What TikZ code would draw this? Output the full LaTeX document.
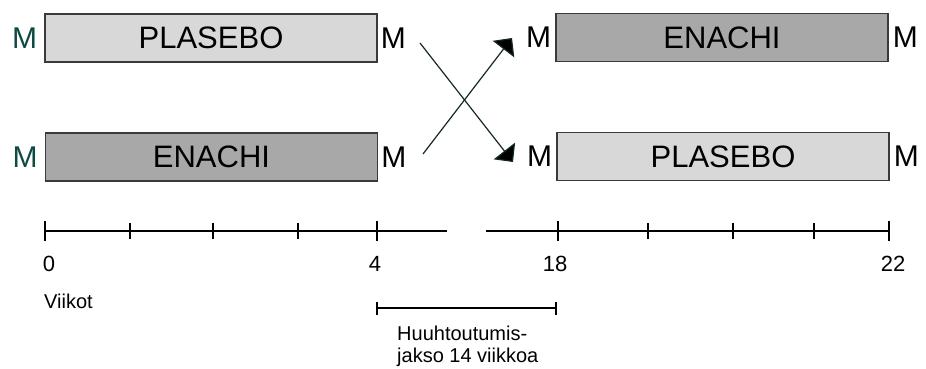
\documentclass[tikz,border=0pt]{standalone}
\usepackage{fontspec}
\setmainfont{Liberation Sans}
\usetikzlibrary{arrows.meta}
\definecolor{lightbox}{HTML}{D8D8D8}
\definecolor{darkbox}{HTML}{A8A8A8}
\definecolor{boxline}{HTML}{3A3A3A}
\definecolor{tealM}{HTML}{0E4A42}
\definecolor{arrowcol}{HTML}{142826}
\tikzset{
  treat/.style={draw=boxline, line width=1.4pt, minimum width=332pt, minimum height=48pt, inner sep=0pt,
    font=\fontsize{31}{34}\selectfont},
  light/.style={treat, fill=lightbox},
  dark/.style={treat, fill=darkbox},
  mlab/.style={inner sep=0pt, font=\fontsize{30}{34}\selectfont},
  small/.style={inner sep=0pt, font=\fontsize{20}{20}\selectfont},
  digit/.style={inner sep=0pt, font=\fontsize{22}{22}\selectfont},
  axis/.style={line width=1.3pt, black},
  cross/.style={line width=1.2pt, arrowcol, -{Triangle[width=27pt,length=14pt,fill=black]}}
}
\begin{document}
\begin{tikzpicture}[x=1pt,y=-1pt]
\useasboundingbox[fill=white] (0,0) rectangle (926,369);
% boxes
\node[light] (b1) at (211,38) {PLASEBO};
\node[dark]  (b2) at (211.5,157) {ENACHI};
\node[dark]  (b3) at (722,37.5) {ENACHI};
\node[light] (b4) at (723,156.5) {PLASEBO};
% M labels
\node[mlab, text=tealM, anchor=east] (m1l) at ([xshift=-7pt]b1.west) {M};
\node[mlab, text=tealM, anchor=east] (m2l) at ([xshift=-7pt]b2.west) {M};
\node[mlab, anchor=west] (m1r) at ([xshift=3pt]b1.east) {M};
\node[mlab, anchor=west] (m2r) at ([xshift=3pt]b2.east) {M};
\node[mlab, anchor=east] (m3l) at ([xshift=-4pt]b3.west) {M};
\node[mlab, anchor=east] (m4l) at ([xshift=-4pt]b4.west) {M};
\node[mlab, anchor=west] (m3r) at ([xshift=4pt]b3.east) {M};
\node[mlab, anchor=west] (m4r) at ([xshift=4pt]b4.east) {M};
% crossing arrows
\coordinate (s1) at (420,43);
\coordinate (s2) at (423,154);
\coordinate (t3) at (512,38);
\coordinate (t4) at (513,162);
\draw[cross] (s1) -- (t4);
\draw[cross] (s2) -- (t3);
% axis
\draw[axis] (45,231) -- (447,231);
\draw[axis] (486,231) -- (889,231);
\foreach \x in {130,213,298}{\draw[axis] (\x,223) -- (\x,239);}
\foreach \x in {648,733,814}{\draw[axis] (\x,223) -- (\x,239);}
\foreach \x in {45,377,558,889}{\draw[axis] (\x,221) -- (\x,241);}
\node[digit, anchor=base] (l0) at (49,271) {0};
\node[digit, anchor=base] (l4) at (375,271) {4};
\node[digit, anchor=base] (l18) at (555,271) {18};
\node[digit, anchor=base] (l22) at (893,271) {22};
\node[small, anchor=base west] (vk) at (44,308) {Viikot};
% washout bracket
\coordinate (w1) at (377,308);
\coordinate (w2) at (556,308);
\draw[axis] (w1) -- (w2);
\draw[axis] ([yshift=-7pt]w1) -- ([yshift=6pt]w1);
\draw[axis] ([yshift=-7pt]w2) -- ([yshift=6pt]w2);
\node[small, anchor=base west] (h1) at (397,340) {Huuhtoutumis-};
\node[small, anchor=base west] (h2) at (397,362) {jakso 14 viikkoa};
\end{tikzpicture}
\end{document}
